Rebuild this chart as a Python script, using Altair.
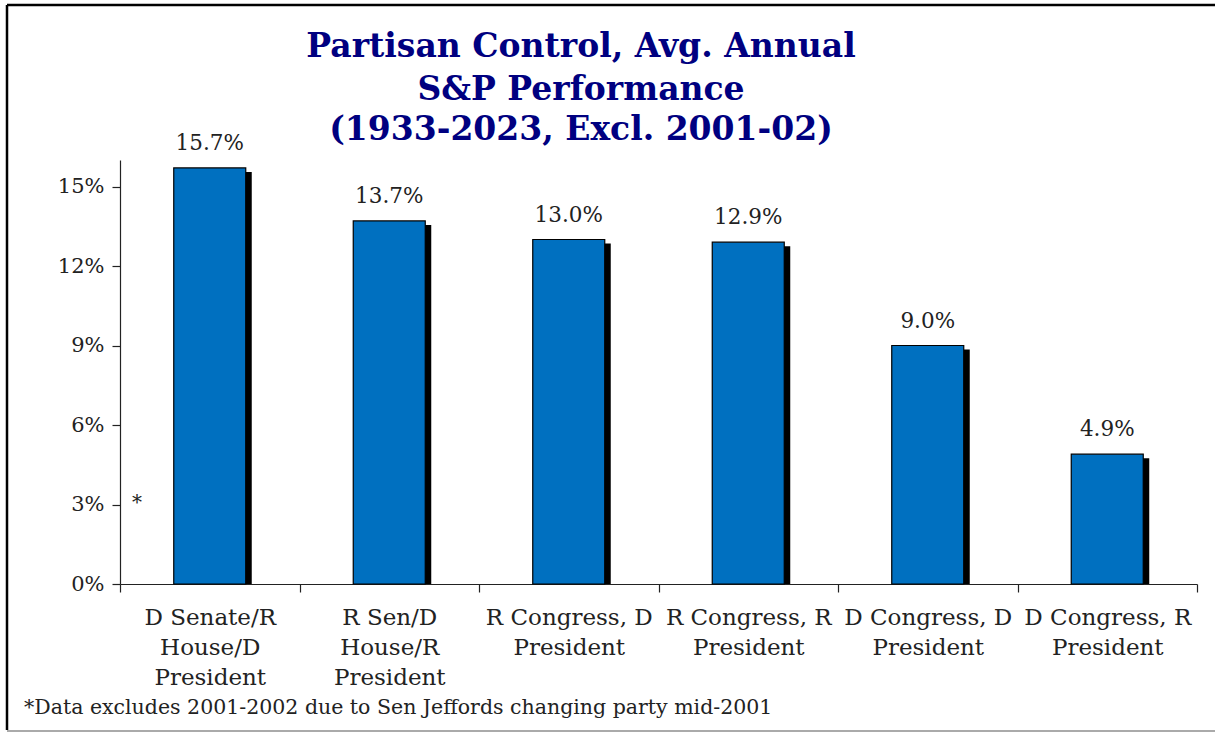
import altair as alt
import pandas as pd

categories = [
    "D Senate/R\nHouse/D\nPresident",
    "R Sen/D\nHouse/R\nPresident",
    "R Congress, D\nPresident",
    "R Congress, R\nPresident",
    "D Congress, D\nPresident",
    "D Congress, R\nPresident",
]
values = [15.7, 13.7, 13.0, 12.9, 9.0, 4.9]
value_labels = ["15.7%", "13.7%", "13.0%", "12.9%", "9.0%", "4.9%"]
y_ticks = [0, 3, 6, 9, 12, 15]
title_lines = ["Partisan Control, Avg. Annual", "S&P Performance", "(1933-2023, Excl. 2001-02)"]
footnote = "*Data excludes 2001-2002 due to Sen Jeffords changing party mid-2001"

df = pd.DataFrame({"cat": categories, "val": values, "lab": value_labels})

W, H = 1077, 424
SERIF = "DejaVu Serif"
TXT = "#222222"

x_enc = alt.X(
    "cat:N",
    sort=categories,
    title=None,
    scale=alt.Scale(paddingInner=0, paddingOuter=0),
    axis=alt.Axis(
        tickBand="extent",
        labelExpr="split(datum.label, '\\n')",
        labelAngle=0,
        labelFont=SERIF,
        labelFontSize=23,
        labelColor=TXT,
        labelLineHeight=30,
        labelPadding=14,
        labelBaseline="top",
        tickSize=8,
        tickColor=TXT,
        domainColor=TXT,
        tickWidth=1.2,
        domainWidth=1.2,
    ),
)
y_enc = alt.Y(
    "val:Q",
    title=None,
    scale=alt.Scale(domain=[0, 16], nice=False),
    axis=alt.Axis(
        values=y_ticks,
        labelExpr="datum.value + '%'",
        labelFont=SERIF,
        labelFontSize=21,
        labelColor=TXT,
        labelPadding=8,
        tickSize=8,
        tickColor=TXT,
        domainColor=TXT,
        tickWidth=1.2,
        domainWidth=1.2,
        grid=False,
    ),
)

base = alt.Chart(df)

shadow = base.mark_bar(size=72, color="black", xOffset=6, yOffset=4, clip=True).encode(x=x_enc, y=y_enc)
bars = base.mark_bar(size=72, color="#0070C0", stroke="black", strokeWidth=1.2).encode(x=x_enc, y=y_enc)
labels = base.mark_text(font=SERIF, fontSize=21.5, dy=-13, baseline="bottom", color=TXT).encode(
    x=x_enc, y=y_enc, text="lab:N"
)

one = pd.DataFrame({"a": [0]})

star = alt.Chart(pd.DataFrame({"t": ["*"]})).mark_text(
    font=SERIF, fontSize=20, color=TXT, align="left", baseline="middle"
).encode(x=alt.value(12), y=alt.value(H - 79 - 2), text="t:N")

title_y = [-113, -70, -30]
title_layers = [
    alt.Chart(pd.DataFrame({"t": [line]})).mark_text(
        font=SERIF, fontSize=33, fontWeight="bold", color="#000080", baseline="middle", align="center"
    ).encode(x=alt.value(461), y=alt.value(yy), text="t:N")
    for line, yy in zip(title_lines, title_y)
]

foot = alt.Chart(pd.DataFrame({"t": [footnote]})).mark_text(
    font=SERIF, fontSize=20.5, color=TXT, align="left", baseline="middle"
).encode(x=alt.value(-96), y=alt.value(H + 124), text="t:N")

frame_left = alt.Chart(one).mark_rule(color="black", strokeWidth=2.5).encode(
    x=alt.value(-113), y=alt.value(-155), y2=alt.value(H + 146)
)
frame_top = alt.Chart(one).mark_rule(color="black", strokeWidth=2.5).encode(
    x=alt.value(-113), x2=alt.value(W + 18), y=alt.value(-155)
)
frame_bottom = alt.Chart(one).mark_rule(color="#aaaaaa", strokeWidth=2).encode(
    x=alt.value(-113), x2=alt.value(W + 18), y=alt.value(H + 147)
)

chart = alt.layer(
    shadow, bars, labels, star, *title_layers, foot, frame_left, frame_top, frame_bottom
).properties(
    width=W,
    height=H,
    autosize=alt.AutoSizeParams(type="none"),
    padding={"left": 120, "top": 160, "right": 18, "bottom": 148},
    background="white",
).configure_view(stroke=None)

chart.save("out.html", embed_options={"renderer": "svg", "actions": False})
